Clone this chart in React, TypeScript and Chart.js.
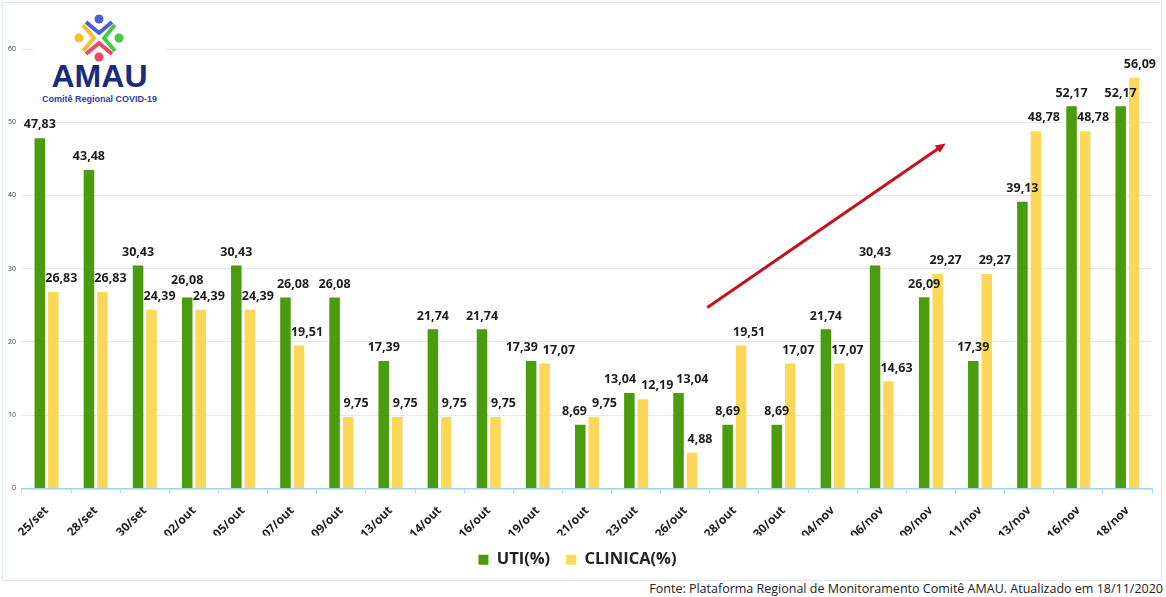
import { useEffect, useRef } from "react"
import { Chart, registerables } from "chart.js"

Chart.register(...registerables)

const dates = [
  "25/set", "28/set", "30/set", "02/out", "05/out", "07/out", "09/out", "13/out",
  "14/out", "16/out", "19/out", "21/out", "23/out", "26/out", "28/out", "30/out",
  "04/nov", "06/nov", "09/nov", "11/nov", "13/nov", "16/nov", "18/nov",
]
const utiValues = [
  47.83, 43.48, 30.43, 26.08, 30.43, 26.08, 26.08, 17.39, 21.74, 21.74, 17.39, 8.69,
  13.04, 13.04, 8.69, 8.69, 21.74, 30.43, 26.09, 17.39, 39.13, 52.17, 52.17,
]
const clinicaValues = [
  26.83, 26.83, 24.39, 24.39, 24.39, 19.51, 9.75, 9.75, 9.75, 9.75, 17.07, 9.75,
  12.19, 4.88, 19.51, 17.07, 17.07, 14.63, 29.27, 29.27, 48.78, 48.78, 56.09,
]
const seriesNames = ["UTI(%)", "CLINICA(%)"]
// trend arrow, in (category index, value) space
const arrowFrom = [13.45, 24.7]
const arrowTo = [18.3, 47.1]

const GREEN = "#4a9c0c"
const YELLOW = "#fdd758"
const FONT = "'Open Sans', sans-serif"

const fmt = (v: number) => v.toFixed(2).replace(".", ",")

const valueLabels = {
  id: "valueLabels",
  afterDatasetsDraw(chart: any) {
    const { ctx, chartArea } = chart
    const green = chart.getDatasetMeta(0).data
    const yellow = chart.getDatasetMeta(1).data
    const h = 12
    ctx.save()
    ctx.font = `bold 12.5px ${FONT}`
    ctx.fillStyle = "#1c1c1c"
    ctx.textBaseline = "bottom"
    ctx.textAlign = "left"

    // first pass: place the two labels of each date so they don't collide
    const placed = green.map((g: any, i: number) => {
      const y = yellow[i]
      const gText = fmt(utiValues[i])
      const yText = fmt(clinicaValues[i])
      const gw = ctx.measureText(gText).width
      const yw = ctx.measureText(yText).width
      let gx = g.x - gw / 2
      let gy = g.y - 7
      let yx = Math.min(y.x - yw / 2 + 8, chartArea.right + 4 - yw)
      const yy = y.y - 7
      const overlapX = gx + gw + 2 > yx && yx + yw > gx
      const overlapY = Math.abs(gy - yy) < h + 2
      if (overlapX && overlapY) {
        if (y.y - g.y > 8) {
          gy = yy - h - 4
        } else {
          const c = (g.x + y.x) / 2
          gx = c - gw
          yx = c + 5
        }
      }
      return { gText, gw, gx, gy, yText, yw, yx, yy }
    })

    // second pass: keep a green label clear of the previous date's yellow label
    for (let i = 1; i < placed.length; i++) {
      const prev = placed[i - 1]
      const cur = placed[i]
      const overlapY = Math.abs(cur.gy - prev.yy) < h + 2
      if (overlapY && cur.gx < prev.yx + prev.yw + 3) {
        cur.gx = prev.yx + prev.yw + 3
      }
    }

    placed.forEach((p: any) => {
      ctx.fillText(p.gText, p.gx, p.gy)
      ctx.fillText(p.yText, p.yx, p.yy)
    })
    ctx.restore()
  },
}

const trendArrow = {
  id: "trendArrow",
  afterDatasetsDraw(chart: any) {
    const { ctx } = chart
    const xs = chart.scales.x
    const ys = chart.scales.y
    const x1 = xs.getPixelForValue(arrowFrom[0])
    const y1 = ys.getPixelForValue(arrowFrom[1])
    const x2 = xs.getPixelForValue(arrowTo[0])
    const y2 = ys.getPixelForValue(arrowTo[1])
    const a = Math.atan2(y2 - y1, x2 - x1)
    const head = 11
    ctx.save()
    ctx.strokeStyle = "#c3121e"
    ctx.fillStyle = "#c3121e"
    ctx.lineWidth = 3
    ctx.beginPath()
    ctx.moveTo(x1, y1)
    ctx.lineTo(x2 - Math.cos(a) * head * 0.8, y2 - Math.sin(a) * head * 0.8)
    ctx.stroke()
    ctx.beginPath()
    ctx.moveTo(x2, y2)
    ctx.lineTo(x2 - head * Math.cos(a - 0.42), y2 - head * Math.sin(a - 0.42))
    ctx.lineTo(x2 - head * Math.cos(a + 0.42), y2 - head * Math.sin(a + 0.42))
    ctx.closePath()
    ctx.fill()
    ctx.restore()
  },
}

function Logo() {
  return (
    <div
      style={{
        position: "absolute",
        left: 33,
        top: 8,
        width: 133,
        height: 98,
        background: "#fff",
      }}
    >
      <svg width="133" height="60" style={{ position: "absolute", left: 0, top: 0 }}>
        <g transform="translate(-33,-7)" fill="none" strokeWidth="4">
          <polyline points="86,21 99,32 112,21" stroke="#4b5fd6" />
          <circle cx="99" cy="18" r="4.5" fill="#4b5fd6" stroke="none" />
          <polyline points="115,24 104,37 115,50" stroke="#48c84a" />
          <circle cx="119" cy="37" r="4.5" fill="#48c84a" stroke="none" />
          <polyline points="86,53 99,42 112,53" stroke="#ea4a64" />
          <circle cx="99" cy="56" r="4.5" fill="#ea4a64" stroke="none" />
          <polyline points="83,24 94,37 83,50" stroke="#f5c030" />
          <circle cx="79" cy="37" r="4.5" fill="#f5c030" stroke="none" />
        </g>
      </svg>
      <div
        style={{
          position: "absolute",
          left: 0,
          width: 133,
          top: 52,
          textAlign: "center",
          font: "bold 32px 'Liberation Sans', Arial, sans-serif",
          color: "#1c2a7e",
          lineHeight: "32px",
        }}
      >
        AMAU
      </div>
      <div
        style={{
          position: "absolute",
          left: 0,
          width: 133,
          top: 86,
          textAlign: "center",
          font: "bold 9px 'Liberation Sans', Arial, sans-serif",
          color: "#2e3f9e",
          lineHeight: "10px",
          whiteSpace: "nowrap",
        }}
      >
        Comitê Regional COVID-19
      </div>
    </div>
  )
}

function BarChart() {
  const chartRef = useRef<HTMLCanvasElement>(null)
  const chartInstance = useRef<Chart | null>(null)

  useEffect(() => {
    if (!chartRef.current) return
    if (chartInstance.current) chartInstance.current.destroy()

    chartInstance.current = new Chart(chartRef.current, {
      type: "bar",
      data: {
        labels: dates,
        datasets: [
          { label: seriesNames[0], data: utiValues, backgroundColor: GREEN, borderWidth: 0 },
          { label: seriesNames[1], data: clinicaValues, backgroundColor: YELLOW, borderWidth: 0 },
        ],
      },
      options: {
        animation: false,
        responsive: true,
        maintainAspectRatio: false,
        categoryPercentage: 0.55,
        barPercentage: 0.78,
        layout: { padding: { top: 46, right: 9, left: 0, bottom: 2 } },
        font: { family: FONT },
        scales: {
          x: {
            grid: {
              display: true,
              drawOnChartArea: false,
              drawTicks: true,
              tickLength: 5,
              color: "#a9d9ec",
              offset: true,
            },
            border: { color: "#9fd3e9", width: 1.5 },
            ticks: {
              maxRotation: 45,
              minRotation: 45,
              padding: 10,
              color: "#222",
              font: { family: FONT, weight: "bold", size: 12 },
            },
            afterFit(scale: any) {
              scale.height = scale.height - 17
            },
          },
          y: {
            min: 0,
            max: 60,
            ticks: { stepSize: 10, padding: 6, color: "#444", font: { family: FONT, size: 7 } },
            grid: { color: "#e3e9e9", drawTicks: false },
            border: { display: false },
            afterFit(scale: any) {
              scale.width = 19
            },
          },
        },
        plugins: {
          legend: {
            position: "bottom",
            labels: {
              boxWidth: 10,
              boxHeight: 10,
              padding: 16,
              color: "#222",
              font: { family: FONT, weight: "bold", size: 16.5 },
            },
          },
          tooltip: { enabled: false },
        },
      } as any,
      plugins: [valueLabels, trendArrow],
    })

    return () => {
      if (chartInstance.current) {
        chartInstance.current.destroy()
        chartInstance.current = null
      }
    }
  }, [])

  return <canvas ref={chartRef} />
}

export default function App() {
  return (
    <div
      style={{
        position: "absolute",
        left: 0,
        top: 0,
        width: 1166,
        height: 597,
        background: "#fff",
        fontFamily: FONT,
      }}
    >
      <div
        style={{
          position: "absolute",
          left: 2,
          top: 2,
          width: 1160,
          height: 579,
          border: "1px solid #dfe7e7",
          boxSizing: "border-box",
        }}
      />
      <div style={{ position: "absolute", left: 3, top: 3, width: 1158, height: 577 }}>
        <BarChart />
      </div>
      <Logo />
      <div
        style={{
          position: "absolute",
          right: 3,
          top: 581,
          fontSize: 12.5,
          color: "#222",
          whiteSpace: "nowrap",
          lineHeight: "15px",
        }}
      >
        Fonte: Plataforma Regional de Monitoramento Comitê AMAU. Atualizado em 18/11/2020
      </div>
    </div>
  )
}
